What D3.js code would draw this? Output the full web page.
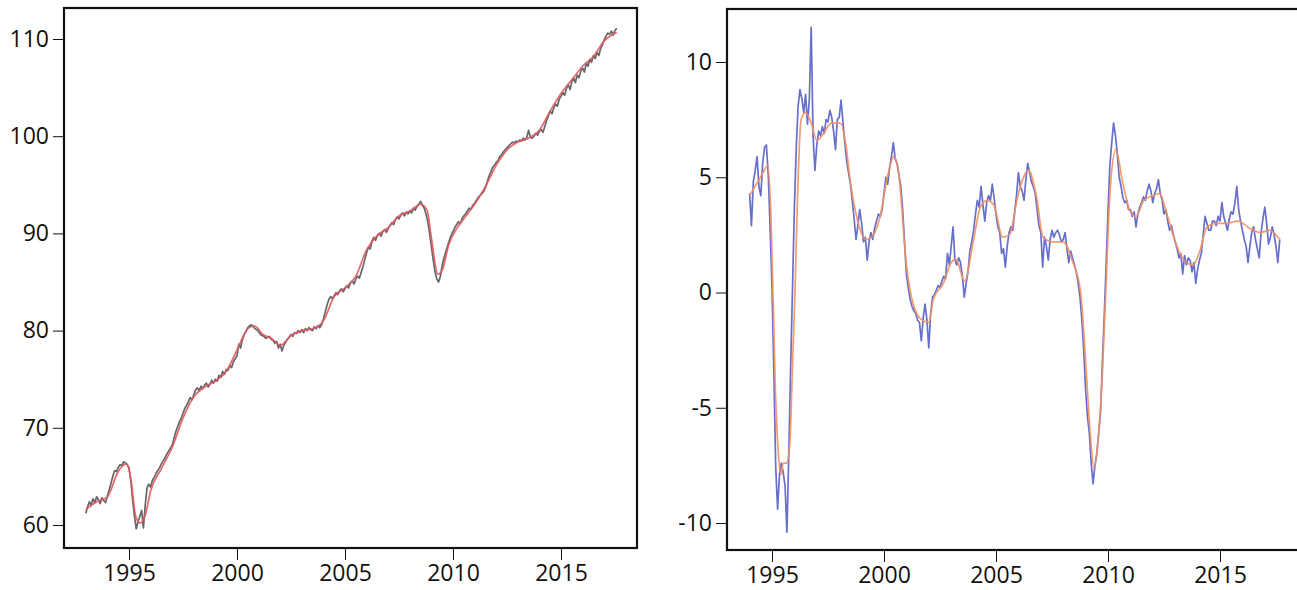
<!DOCTYPE html>
<html>
<head>
<meta charset="utf-8">
<script src="https://cdn.jsdelivr.net/npm/d3@7"></script>
<style>
  body { margin: 0; background: #fff; }
  .tick text { font-family: "Open Sans", sans-serif; font-size: 23px; fill: #111; }
</style>
</head>
<body>
<div id="chart"></div>
<script>
// left panel: index level, monthly from Jan 1993
var levelStart = 1993;
var levelValues = [
  61.2, 61.9, 62.4, 62.0, 62.7, 62.3, 62.9, 62.6, 62.2, 62.8, 62.5, 62.3,
  63.0, 63.6, 64.3, 65.0, 65.6, 65.5, 65.9, 66.2, 66.1, 66.5, 66.4, 66.2,
  65.9, 64.6, 62.6, 61.0, 59.6, 60.3, 60.9, 61.5, 59.7, 62.0, 63.8, 64.2,
  63.9, 64.6, 64.9, 65.3, 65.6, 65.9, 66.3, 66.6, 66.9, 67.3, 67.6, 67.9,
  68.2, 68.9, 69.6, 70.1, 70.6, 71.0, 71.5, 72.0, 72.3, 72.7, 73.1, 72.9,
  73.4, 73.9, 74.1, 73.8, 74.3, 74.0, 74.4, 74.6, 74.2, 74.5, 74.9, 74.6,
  75.0, 74.8, 75.4, 75.2, 75.8, 75.5, 76.0, 75.9, 76.4, 76.2, 76.8, 77.1,
  77.4, 78.6, 78.2, 79.1, 79.6, 79.9, 80.3, 80.5, 80.6, 80.4, 80.2, 80.1,
  79.9, 79.6, 79.5, 79.4, 79.2, 79.3, 79.4, 79.1, 79.0, 78.7, 78.9, 78.2,
  78.6, 77.9, 78.5, 78.8, 79.1, 79.3, 79.6, 79.4, 79.8, 79.7, 80.0, 79.8,
  80.1, 79.8, 80.2, 80.0, 80.3, 80.1, 80.0, 80.4, 80.2, 80.5, 80.3, 80.6,
  81.2, 81.9, 82.6, 83.2, 83.5, 83.3, 83.6, 83.9, 83.7, 84.1, 84.3, 84.0,
  84.3, 84.6, 84.4, 84.9, 85.1, 84.8, 85.3, 85.6, 85.4, 86.0, 86.6, 87.3,
  88.0, 88.6, 88.4, 89.2, 89.6, 89.3, 89.8, 90.0, 89.7, 90.2, 90.4, 90.1,
  90.5, 90.8, 91.1, 90.9, 91.4, 91.7, 91.5, 91.9, 92.1, 91.8, 92.2, 92.0,
  92.3, 92.1, 92.6, 92.4, 92.8, 93.0, 93.3, 92.9, 92.6, 92.0, 91.2, 90.0,
  88.6, 87.3, 86.1, 85.3, 85.0, 85.6, 86.7, 87.5, 88.1, 88.7, 89.3, 89.8,
  90.2, 90.6, 90.9, 91.2, 91.0, 91.5, 91.8, 92.0, 92.3, 92.6, 92.5, 92.9,
  93.1, 93.4, 93.7, 93.9, 94.1, 94.3, 94.7, 95.3, 95.9, 96.3, 96.8, 97.0,
  97.3, 97.5, 97.9, 98.1, 98.4, 98.6, 98.8, 99.0, 99.2, 99.4, 99.3, 99.5,
  99.4, 99.6, 99.5, 99.8, 99.6, 99.9, 100.6, 99.9, 99.8, 100.0, 100.3, 100.1,
  100.5, 100.7, 100.4, 101.0, 101.6, 102.1, 102.6, 102.3, 102.9, 103.3, 103.1, 103.8,
  104.1, 104.5, 104.2, 104.9, 105.3, 104.8, 105.6, 106.0, 105.5, 106.3, 106.0, 106.7,
  107.0, 106.6, 107.5, 107.2, 107.9, 107.6, 108.3, 108.0, 108.6, 108.3, 109.0, 109.4,
  109.9, 110.3, 110.6, 110.5, 110.8, 110.4, 110.9, 111.1
];
var levelTrendYears = [1993.0, 1993.5, 1994.0, 1994.5, 1994.9, 1995.1, 1995.3, 1995.5, 1995.75, 1996.0,
  1996.5, 1997.0, 1997.5, 1998.0, 1998.5, 1999.0, 1999.5, 2000.0, 2000.5, 2000.8,
  2001.2, 2001.6, 2002.0, 2002.5, 2003.0, 2003.5, 2004.0, 2004.5, 2005.0, 2005.5,
  2006.0, 2006.5, 2007.0, 2007.5, 2008.0, 2008.5, 2008.8, 2009.0, 2009.3, 2009.5,
  2009.8, 2010.2, 2010.5, 2011.0, 2011.5, 2012.0, 2012.5, 2013.0, 2013.5, 2014.0,
  2014.5, 2015.0, 2015.5, 2016.0, 2016.5, 2017.0, 2017.58];
var levelTrendValues = [61.6, 62.4, 62.9, 65.5, 66.3, 64.5, 61.0, 60.2, 61.0, 63.5,
  65.8, 68.0, 71.0, 73.2, 74.2, 74.8, 75.8, 78.0, 80.2, 80.5,
  79.6, 79.2, 78.5, 79.5, 80.0, 80.2, 81.0, 83.5, 84.4, 85.6,
  88.3, 89.8, 90.6, 91.8, 92.3, 93.0, 92.4, 89.5, 85.8, 86.2,
  88.8, 90.6, 91.5, 93.0, 94.8, 97.0, 98.6, 99.4, 99.8, 100.6,
  102.6, 104.4, 105.8, 107.2, 108.2, 109.8, 110.7];

// right panel: year-on-year change, monthly from Jan 1994
var growthStart = 1994;
var growthValues = [
  4.3, 2.9, 4.8, 5.3, 5.9, 4.6, 4.2, 5.6, 6.3, 6.4, 5.1, 2.8,
  0.2, -3.5, -7.6, -9.4, -7.9, -7.4, -7.8, -8.4, -10.4, -7.0, -3.2, 0.2,
  3.7, 6.3, 8.1, 8.8, 8.4, 7.8, 8.6, 7.3, 8.4, 11.5, 6.8, 5.3,
  6.4, 7.0, 6.8, 7.2, 6.9, 7.5, 7.4, 7.9, 7.6, 7.0, 6.2, 7.5,
  7.6, 8.35, 7.4, 6.5, 5.7, 5.2, 4.7, 4.0, 3.2, 2.3, 2.9, 3.6,
  3.0, 2.2, 2.4, 1.4, 2.2, 2.6, 2.3, 2.8, 3.1, 3.4, 3.3, 3.6,
  4.3, 5.0, 4.7, 5.4, 5.9, 6.5, 5.8, 5.6, 5.1, 4.6, 3.6, 2.2,
  0.8, 0.2, -0.3, -0.6, -0.8, -0.9, -1.2, -1.3, -2.1, -1.1, -0.5, -1.2,
  -2.4, -0.9, -0.2, -0.1, 0.1, 0.3, 0.2, 0.5, 0.7, 0.6, 1.7, 1.2,
  2.0, 2.85, 1.4, 1.2, 1.5, 1.3, 0.7, -0.2, 0.4, 0.9, 1.8, 2.2,
  2.7, 3.4, 4.0, 3.7, 4.6, 3.8, 3.1, 3.9, 4.2, 4.0, 4.7, 4.1,
  3.4, 2.85, 2.6, 1.7, 1.9, 1.1, 2.0, 2.6, 2.85, 2.7, 3.5, 4.2,
  5.2, 4.6, 4.4, 4.0, 4.9, 5.6, 5.2, 4.8, 4.6, 4.3, 3.6, 2.9,
  2.6, 1.1, 2.4, 2.0, 1.4, 2.3, 2.7, 2.4, 2.6, 2.7, 2.5, 2.2,
  2.3, 2.6, 1.9, 1.3, 1.8, 1.5, 1.2, 0.9, 0.4, -0.2, -1.2, -2.5,
  -4.2, -5.4, -6.1, -7.4, -8.3, -7.5, -7.0, -6.1, -5.2, -3.0, -1.0, 1.2,
  3.5, 5.5, 6.5, 7.35, 6.8, 6.0, 5.0, 4.6, 4.1, 3.9, 4.0, 3.6,
  3.6, 3.3, 3.5, 2.85, 3.4, 3.7, 3.9, 4.15, 4.0, 4.4, 4.7, 4.4,
  3.9, 4.3, 4.5, 4.9, 4.3, 4.0, 3.4, 3.6, 3.1, 2.7, 2.9, 2.5,
  2.2, 1.9, 1.5, 1.7, 0.8, 1.6, 1.2, 1.5, 1.4, 0.9, 1.3, 0.4,
  1.0, 1.4, 1.7, 2.5, 3.3, 3.0, 2.7, 2.7, 3.1, 3.1, 2.9, 3.3,
  3.1, 3.9, 3.3, 3.0, 2.7, 3.2, 3.5, 3.4, 3.9, 4.6, 3.6, 3.1,
  2.7, 2.3, 2.0, 1.3, 2.0, 2.6, 2.85, 2.3, 1.9, 1.5, 2.6, 3.2,
  3.7, 3.0, 2.1, 2.4, 2.85, 2.5, 2.0, 1.3, 2.3
];
var growthTrendYears = [1994.0, 1994.3, 1994.6, 1994.8, 1994.95, 1995.15, 1995.3, 1995.4, 1995.5, 1995.65,
  1995.8, 1995.92, 1996.03, 1996.15, 1996.3, 1996.5, 1996.75, 1997.0, 1997.3, 1997.65,
  1998.05, 1998.3, 1998.5, 1998.8, 1999.2, 1999.45, 1999.85, 2000.15, 2000.45, 2000.65,
  2001.0, 2001.3, 2001.7, 2002.0, 2002.2, 2002.65, 2003.0, 2003.2, 2003.6, 2004.0,
  2004.3, 2004.6, 2004.9, 2005.3, 2005.6, 2006.0, 2006.45, 2006.8, 2007.1, 2007.5,
  2008.0, 2008.4, 2008.78, 2009.0, 2009.2, 2009.37, 2009.55, 2009.75, 2009.9, 2010.1,
  2010.35, 2010.65, 2011.0, 2011.25, 2011.6, 2012.0, 2012.3, 2012.6, 2013.0, 2013.4,
  2013.8, 2014.1, 2014.4, 2014.8, 2015.3, 2015.8, 2016.3, 2016.8, 2017.2, 2017.67];
var growthTrendValues = [4.2, 4.7, 5.2, 5.5, 3.5, -4.2, -7.2, -7.9, -7.4, -7.4,
  -6.5, -3.0, 0.1, 4.5, 7.5, 7.8, 7.35, 6.6, 6.9, 7.35,
  7.35, 6.4, 4.8, 3.2, 2.3, 2.4, 3.4, 5.0, 5.9, 5.2,
  1.2, -0.5, -1.2, -1.3, -0.3, 0.4, 1.3, 1.45, 0.5, 2.3,
  3.7, 4.0, 3.8, 2.4, 2.5, 4.3, 5.3, 4.2, 2.4, 2.2,
  2.2, 1.4, 0.0, -3.0, -6.0, -7.6, -6.5, -3.5, 0.0, 4.5,
  6.2, 4.8, 3.5, 3.3, 4.0, 4.2, 4.3, 3.5, 2.2, 1.4,
  1.2, 1.8, 2.8, 3.0, 3.0, 3.1, 2.8, 2.6, 2.7, 2.3];

var levelTicks = [60, 70, 80, 90, 100, 110];
var growthTicks = [-10, -5, 0, 5, 10];
var yearTicks = [1995, 2000, 2005, 2010, 2015];

var svg = d3.select("#chart")
  .append("svg")
  .attr("width", 1297)
  .attr("height", 590);

function monthly(start, values) {
  return values.map(function(v, i) { return { year: start + i / 12, value: v }; });
}
function pairs(years, values) {
  return years.map(function(y, i) { return { year: y, value: values[i] }; });
}

function drawPanel(opts) {
  var x = d3.scaleLinear().domain([1995, 2015]).range(opts.xRange);
  var y = d3.scaleLinear().domain(opts.yDomain).range(opts.yRange);

  var g = svg.append("g");

  // y axis
  g.append("g")
    .attr("transform", `translate(${opts.box[0]}, 0)`)
    .call(d3.axisLeft(y).tickValues(opts.yTicks).tickSize(11).tickPadding(4).tickFormat(d => String(d)))
    .call(a => a.select(".domain").remove())
    .call(a => a.selectAll(".tick line").attr("stroke", "#111"));

  // x axis
  g.append("g")
    .attr("transform", `translate(0, ${opts.box[3]})`)
    .call(d3.axisBottom(x).tickValues(yearTicks).tickSize(12).tickPadding(5).tickFormat(d3.format("d")))
    .call(a => a.select(".domain").remove())
    .call(a => a.selectAll(".tick line").attr("stroke", "#111"));

  var line = d3.line()
    .x(d => x(d.year))
    .y(d => y(d.value));

  g.append("path")
    .datum(opts.noisy)
    .attr("fill", "none")
    .attr("stroke", opts.noisyColor)
    .attr("stroke-width", 1.7)
    .attr("stroke-linejoin", "round")
    .attr("d", line);

  g.append("path")
    .datum(opts.trend)
    .attr("fill", "none")
    .attr("stroke", opts.trendColor)
    .attr("stroke-width", 1.7)
    .attr("opacity", 0.9)
    .attr("d", line.curve(d3.curveMonotoneX));

  // frame
  g.append("rect")
    .attr("x", opts.box[0])
    .attr("y", opts.box[1])
    .attr("width", opts.box[2] - opts.box[0])
    .attr("height", opts.box[3] - opts.box[1])
    .attr("fill", "none")
    .attr("stroke", "#111")
    .attr("stroke-width", 2.2);
}

drawPanel({
  xRange: [129, 561],
  yDomain: [60, 110],
  yRange: [525, 39],
  box: [64, 8, 637, 548],
  yTicks: levelTicks,
  noisy: monthly(levelStart, levelValues),
  trend: pairs(levelTrendYears, levelTrendValues),
  noisyColor: "#66666c",
  trendColor: "#e2585c"
});

drawPanel({
  xRange: [772, 1220],
  yDomain: [-10, 10],
  yRange: [523, 62],
  box: [727, 9, 1310, 550],
  yTicks: growthTicks,
  noisy: monthly(growthStart, growthValues),
  trend: pairs(growthTrendYears, growthTrendValues),
  noisyColor: "#6670cc",
  trendColor: "#f29062"
});
</script>
</body>
</html>
